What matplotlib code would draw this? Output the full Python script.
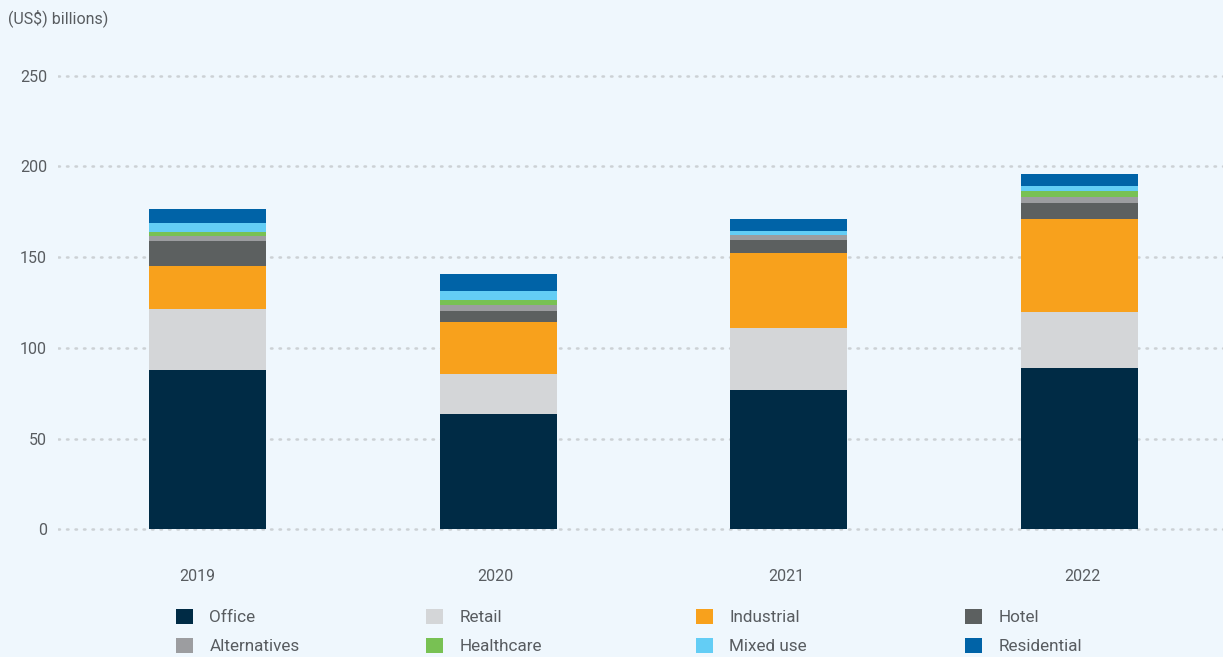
import matplotlib
matplotlib.use("Agg")
import matplotlib.pyplot as plt
from matplotlib.patches import Patch
from matplotlib.transforms import ScaledTranslation

plt.rcParams['font.family'] = ['Roboto', 'DejaVu Sans']

years = ["2019", "2020", "2021", "2022"]
categories = ["Office", "Retail", "Industrial", "Hotel",
              "Alternatives", "Healthcare", "Mixed use", "Residential"]
office = [87.8, 63.5, 76.8, 89.0]
retail = [33.6, 22.1, 34.2, 30.8]
industrial = [23.7, 28.7, 41.3, 51.2]
hotel = [13.8, 6.0, 7.0, 8.8]
alternatives = [2.9, 3.2, 2.7, 3.4]
healthcare = [2.1, 2.9, 0.0, 3.3]
mixed_use = [4.9, 4.9, 2.6, 2.7]
residential = [7.7, 9.4, 6.4, 6.6]
series = [office, retail, industrial, hotel, alternatives, healthcare, mixed_use, residential]
colors = ["#002b45", "#d4d6d8", "#f8a11c", "#5c6060",
          "#9c9da0", "#78c153", "#63cdf5", "#0063a7"]
yticks = [0, 50, 100, 150, 200, 250]

bg = "#eff7fd"
txt = "#585c60"

fig = plt.figure(figsize=(12.23, 6.57), dpi=100, facecolor=bg)
ax = fig.add_axes([58 / 1223, 0.1889, 1 - 58 / 1223, 0.8986 - 0.1889])
ax.set_facecolor(bg)

x = list(range(len(years)))
bottom = [0.0] * len(years)
for vals, c, name in zip(series, colors, categories):
    ax.bar(x, vals, width=0.4025, bottom=bottom, color=c, label=name, zorder=3)
    bottom = [b + v for b, v in zip(bottom, vals)]

ax.set_xlim(-0.5143, 3.4933)
ax.set_ylim(-2, 255)
ax.set_yticks(yticks)
ax.set_yticklabels([str(t) for t in yticks])
ax.set_xticks(x)
ax.set_xticklabels(years)
for s in ax.spines.values():
    s.set_visible(False)
ax.tick_params(axis='y', length=0, pad=8, labelsize=11.5, labelcolor=txt)
ax.tick_params(axis='x', length=0, pad=26, labelsize=11.5, labelcolor=txt)
shifts = [-10, -2.5, -2.5, 2.5]
for lab, dx in zip(ax.get_xticklabels(), shifts):
    lab.set_transform(lab.get_transform() + ScaledTranslation(dx / 100, 0, fig.dpi_scale_trans))
ax.set_axisbelow(True)
ax.yaxis.grid(True, color="#ccd1d5", linestyle=(0, (0.6, 2.8)), linewidth=1.8,
              dash_capstyle='round', zorder=0)
ax.xaxis.grid(False)

fig.text(8 / 1223, 1 - 18 / 657, "(US$) billions)", fontsize=11.5, color=txt,
         ha='left', va='center')

# legend: four columns, two rows
col_x = [176, 426, 696, 965]
for j in range(4):
    hs = [Patch(facecolor=colors[j], edgecolor='none'),
          Patch(facecolor=colors[j + 4], edgecolor='none')]
    labs = [categories[j], categories[j + 4]]
    fig.legend(hs, labs, loc='upper left',
               bbox_to_anchor=(col_x[j] / 1223, 1 - 609 / 657),
               ncol=1, frameon=False, fontsize=12.3, labelcolor=txt,
               handlelength=1.0, handleheight=1.0, handletextpad=0.95,
               labelspacing=0.72, borderaxespad=0, borderpad=0)

fig.savefig("out.png", dpi=100, facecolor=bg)
